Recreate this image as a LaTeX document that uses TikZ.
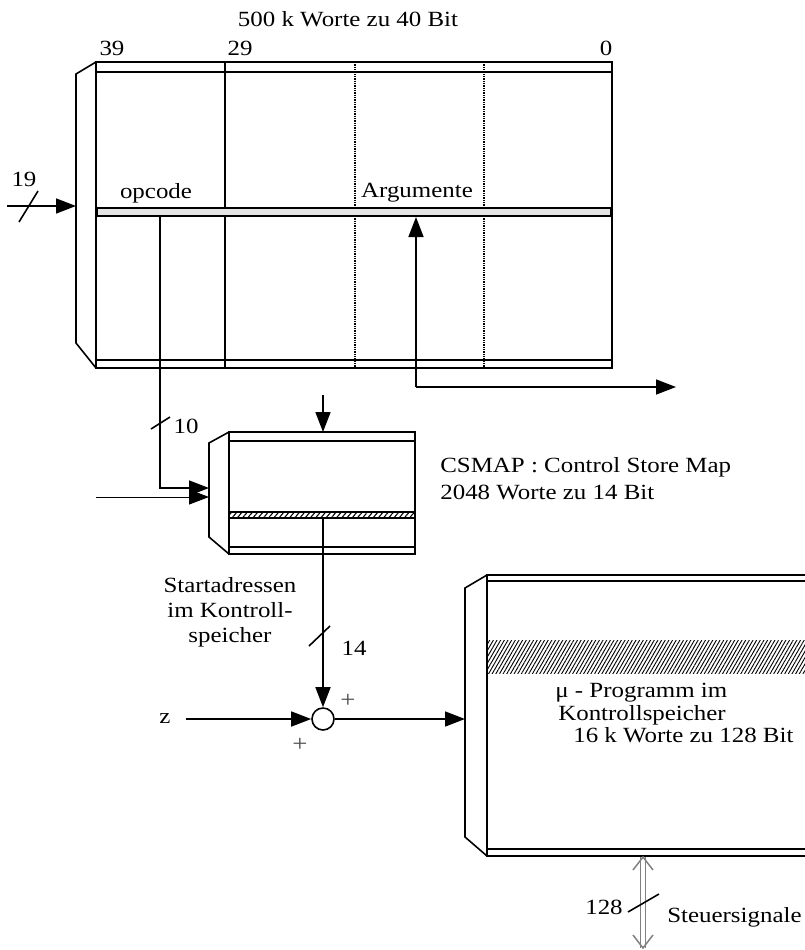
\documentclass[tikz,border=0pt]{standalone}
\usepackage{fontspec}
\setmainfont{Liberation Serif}[FakeStretch=1.15]
\usetikzlibrary{arrows.meta, patterns.meta, positioning, calc}
\tikzset{
  face/.style={draw, line width=0.95pt, line join=miter},
  memline/.style={line width=0.95pt},
  dotline/.style={line width=0.9pt, dash pattern=on 0.7pt off 0.7pt},
  regbar/.style={draw, line width=0.8pt, fill=black!10},
  hatchbar/.style={draw, line width=0.8pt, pattern={Lines[angle=50, distance=2.4pt, line width=0.65pt]}},
  hatchband/.style={pattern={Lines[angle=60, distance=1.9pt, line width=0.55pt]}},
  arrow/.style={-{Triangle[length=12pt, width=9pt]}, line width=0.95pt},
  thinarrow/.style={arrow, line width=0.55pt},
  sigline/.style={draw=gray, line width=0.8pt, double, double distance=2pt},
  sigtip/.style={draw=gray, line width=0.9pt},
  busslash/.style={line width=0.95pt},
  lbl/.style={font=\fontsize{13}{15}\selectfont, inner sep=0pt},
  pluslbl/.style={font=\fontsize{14}{15}\selectfont, text=black!70, inner sep=0pt},
  sumnode/.style={circle, draw, line width=0.95pt, minimum size=13.2pt, inner sep=0pt}
}
\begin{document}
\begin{tikzpicture}[x=0.6pt, y=-0.6pt, every node/.style={lbl}]
  \useasboundingbox (0,0) rectangle (805,950);
  \clip (0,0) rectangle (805,950);

  % Hauptspeicher
  \draw[face] (96,62) rectangle (612,368);
  \draw[memline] (96,72) -- (612,72) (96,360) -- (612,360);
  \draw[face] (96,62) -- (76,74) -- (76,343) -- (96,368);
  \draw[memline] (225,62) -- (225,368);
  \draw[dotline] (355,62) -- (355,368) (484,62) -- (484,368);
  \draw[regbar] (97,208) rectangle (611,216);
  \node[anchor=base] (title) at (348,26) {500 k Worte zu 40 Bit};
  \node[anchor=base] (b39) at (112,55) {39};
  \node[anchor=base] (b29) at (240,55) {29};
  \node[anchor=base] (b0) at (606,55) {0};
  \node[anchor=base] (opcode) at (156,198) {opcode};
  \node[anchor=base] (args) at (417,197) {Argumente};

  % Adresse
  \coordinate (in19) at (7,206);
  \coordinate (memin) at (76,206);
  \draw[arrow] (in19) -- (memin);
  \draw[busslash] (19,222) -- (38,191);
  \node[anchor=base] (n19) at (24,186) {19};

  % Argumente
  \coordinate (argc) at (416,387);
  \coordinate (argbar) at (416,217);
  \coordinate (argout) at (676,387);
  \draw[arrow] (argc) -- (argbar);
  \draw[arrow] (argc) -- (argout);

  % CSMAP
  \draw[face] (229,432) rectangle (415,554);
  \draw[memline] (229,441) -- (415,441) (229,547) -- (415,547);
  \draw[face] (229,432) -- (209,443) -- (209,537) -- (229,554);
  \draw[hatchbar] (229,512) rectangle (415,518);
  \node[anchor=base west] (csmap1) at (440,472) {CSMAP : Control Store Map};
  \node[anchor=base west] (csmap2) at (440,499) {2048 Worte zu 14 Bit};

  \coordinate (opc) at (160,216);
  \coordinate (csin) at (209,488);
  \draw[arrow] (opc) |- (csin);
  \draw[busslash] (151,429) -- (170,417);
  \node[anchor=base] (n10) at (186,433) {10};

  \coordinate (ext) at (96,497);
  \coordinate (csin2) at (209,497);
  \draw[thinarrow] (ext) -- (csin2);

  \coordinate (cstop) at (323,395);
  \coordinate (cstopin) at (323,432);
  \draw[arrow] (cstop) -- (cstopin);

  % Startadresse + z
  \node[align=center, anchor=base] (start) at (230,642) {Startadressen\\im Kontroll-\\speicher};
  \coordinate (csout) at (323,518);
  \node[sumnode] (sum) at (323,719) {};
  \draw[arrow] (csout) -- (sum);
  \draw[busslash] (309,646) -- (330,626);
  \node[anchor=base] (n14) at (354,655) {14};
  \node[pluslbl] (plus1) at (348,701) {+};
  \node[pluslbl] (plus2) at (300,745) {+};
  \node (z) at (165,719) {z};
  \draw[arrow, shorten <=9pt] (z.east) -- (sum);

  % Kontrollspeicher
  \fill[hatchband] (487,640) rectangle (820,673);
  \draw[face] (820,575) -- (487,575) -- (487,856) -- (820,856);
  \draw[memline] (487,581) -- (820,581) (487,849) -- (820,849);
  \draw[face] (487,575) -- (465,588) -- (465,837) -- (487,856);
  \node[anchor=base west] (prog1) at (555,697) {μ - Programm im};
  \node[anchor=base west] (prog2) at (558,720) {Kontrollspeicher};
  \node[anchor=base west] (prog3) at (573,742) {16 k Worte zu 128 Bit};

  \coordinate (progin) at (465,719);
  \draw[arrow] (sum) -- (progin);

  % Steuersignale
  \coordinate (progbot) at (643,857);
  \coordinate (sigend) at (643,948);
  \draw[sigline] (progbot) -- (sigend);
  \draw[sigtip] (progbot) ++(-10,13) -- (progbot) -- ++(10,13);
  \draw[sigtip] (sigend) ++(-10,-13) -- (sigend) -- ++(10,-13);
  \draw[busslash] (628,912) -- (659,894);
  \node[anchor=base east] (n128) at (623,914) {128};
  \node[anchor=base west] (steuer) at (667,922) {Steuersignale};
\end{tikzpicture}
\end{document}
